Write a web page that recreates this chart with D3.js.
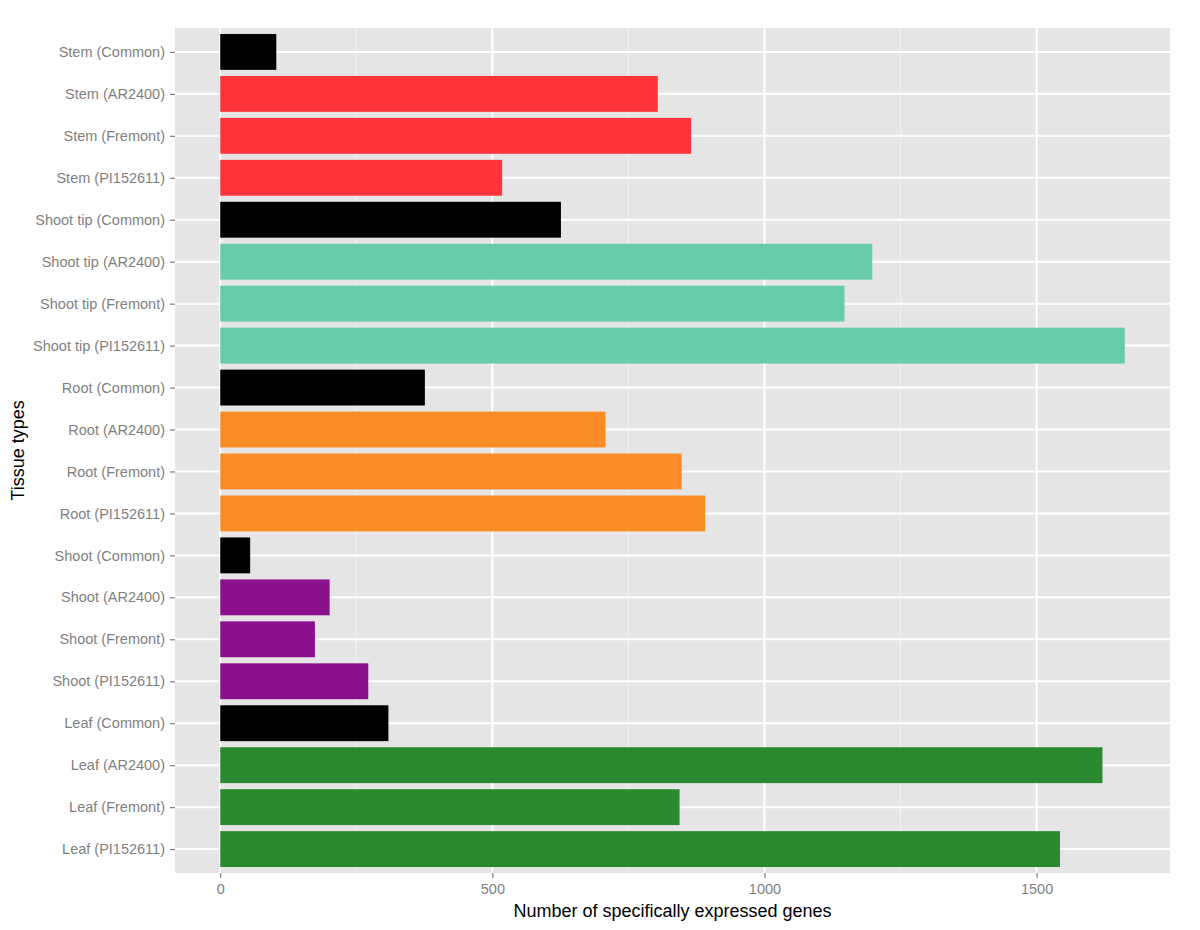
<!DOCTYPE html>
<html>
<head>
<meta charset="utf-8">
<script src="https://cdn.jsdelivr.net/npm/d3@7"></script>
<style>
  html, body { margin: 0; padding: 0; background: #ffffff; }
  svg { display: block; }
</style>
</head>
<body>
<svg id="chart" width="1200" height="930"></svg>
<script>
// Data (top to bottom)
const categories = [
  "Stem (Common)", "Stem (AR2400)", "Stem (Fremont)", "Stem (PI152611)",
  "Shoot tip (Common)", "Shoot tip (AR2400)", "Shoot tip (Fremont)", "Shoot tip (PI152611)",
  "Root (Common)", "Root (AR2400)", "Root (Fremont)", "Root (PI152611)",
  "Shoot (Common)", "Shoot (AR2400)", "Shoot (Fremont)", "Shoot (PI152611)",
  "Leaf (Common)", "Leaf (AR2400)", "Leaf (Fremont)", "Leaf (PI152611)"
];
const values = [
  103, 804, 865, 518,
  626, 1198, 1147, 1662,
  376, 708, 848, 891,
  55, 201, 174, 272,
  309, 1621, 844, 1543
];
const groups = [
  "Common", "Stem", "Stem", "Stem",
  "Common", "ShootTip", "ShootTip", "ShootTip",
  "Common", "Root", "Root", "Root",
  "Common", "Shoot", "Shoot", "Shoot",
  "Common", "Leaf", "Leaf", "Leaf"
];
const groupNames = ["Common", "Stem", "ShootTip", "Root", "Shoot", "Leaf"];
const groupColors = ["#000000", "#FF3339", "#68CCA9", "#FA8C26", "#8C0F8C", "#2B8A2F"];
const xTicks = [0, 500, 1000, 1500];
const xMinorTicks = [250, 750, 1250];
const xTitle = "Number of specifically expressed genes";
const yTitle = "Tissue types";

const svg = d3.select("#chart");
const panel = { left: 175, right: 1170, top: 28, bottom: 873 };

const maxV = d3.max(values);
const pad = maxV * 0.05;
const x = d3.scaleLinear().domain([-pad, maxV + pad]).range([panel.left, panel.right]);

// discrete axis with ggplot-like 0.6 expansion
const y = d3.scaleBand().domain(categories)
  .range([panel.top, panel.bottom])
  .paddingInner(0.1).paddingOuter(0.6 - 0.05 + 0.0);
// compute band manually to match ggplot: step = H / (n + 1.2), bar width = 0.9 step
const n = categories.length;
const step = (panel.bottom - panel.top) / (n + 1.2);
const yCenter = d3.scalePoint().domain(categories)
  .range([panel.top + 0.6 * step, panel.bottom - 0.6 * step]);
const barH = 0.9 * step;

const color = d3.scaleOrdinal().domain(groupNames).range(groupColors);

const font = "'Liberation Sans', Arial, Helvetica, sans-serif";

// panel background
svg.append("rect")
  .attr("x", panel.left).attr("y", panel.top)
  .attr("width", panel.right - panel.left).attr("height", panel.bottom - panel.top)
  .attr("fill", "#E5E5E5");

// minor gridlines
svg.append("g").selectAll("line").data(xMinorTicks).join("line")
  .attr("x1", d => x(d)).attr("x2", d => x(d))
  .attr("y1", panel.top).attr("y2", panel.bottom)
  .attr("stroke", "#F2F2F2").attr("stroke-width", 1);

// major gridlines
svg.append("g").selectAll("line").data(xTicks).join("line")
  .attr("x1", d => x(d)).attr("x2", d => x(d))
  .attr("y1", panel.top).attr("y2", panel.bottom)
  .attr("stroke", "#FFFFFF").attr("stroke-width", 2);

svg.append("g").selectAll("line").data(categories).join("line")
  .attr("x1", panel.left).attr("x2", panel.right)
  .attr("y1", d => yCenter(d)).attr("y2", d => yCenter(d))
  .attr("stroke", "#FFFFFF").attr("stroke-width", 2);

// bars
svg.append("g").selectAll("rect").data(categories).join("rect")
  .attr("x", x(0))
  .attr("y", d => yCenter(d) - barH / 2)
  .attr("width", (d, i) => x(values[i]) - x(0))
  .attr("height", barH)
  .attr("fill", (d, i) => color(groups[i]));

// x axis
const xAxis = d3.axisBottom(x).tickValues(xTicks).tickSize(5).tickPadding(6).tickFormat(d3.format("d"));
const gx = svg.append("g").attr("transform", `translate(0,${panel.bottom})`).call(xAxis);
gx.select(".domain").remove();
gx.selectAll(".tick line").attr("stroke", "#7F7F7F").attr("stroke-width", 1.2);
gx.selectAll(".tick text").attr("fill", "#7F7F7F").style("font-family", font).style("font-size", "14.5px");

// y axis
const yAxis = d3.axisLeft(yCenter).tickSize(5).tickPadding(5);
const gy = svg.append("g").attr("transform", `translate(${panel.left},0)`).call(yAxis);
gy.select(".domain").remove();
gy.selectAll(".tick line").attr("stroke", "#7F7F7F").attr("stroke-width", 1.2);
gy.selectAll(".tick text").attr("fill", "#7F7F7F").style("font-family", font).style("font-size", "14.5px");

// titles
svg.append("text")
  .attr("x", (panel.left + panel.right) / 2).attr("y", 917)
  .attr("text-anchor", "middle")
  .style("font-family", font).style("font-size", "18px").attr("fill", "#000")
  .text(xTitle);

svg.append("text")
  .attr("transform", `translate(24,${(panel.top + panel.bottom) / 2}) rotate(-90)`)
  .attr("text-anchor", "middle")
  .style("font-family", font).style("font-size", "18px").attr("fill", "#000")
  .text(yTitle);
</script>
</body>
</html>
